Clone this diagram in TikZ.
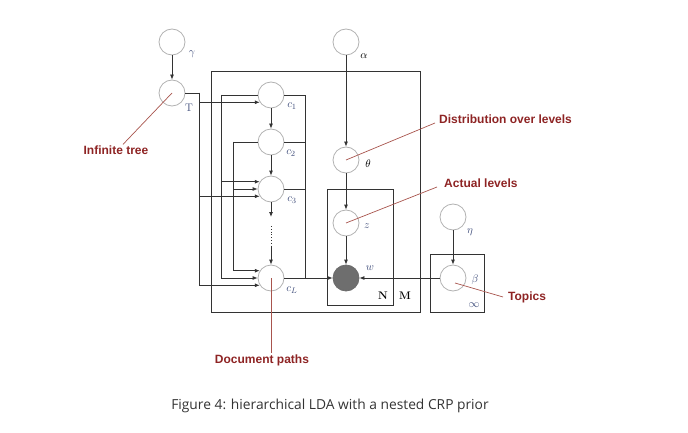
\documentclass[tikz,border=0pt]{standalone}
\usepackage{fontspec}
\newfontfamily\notefont{Liberation Sans}
\newfontfamily\capfont{Open Sans}
\usetikzlibrary{arrows.meta}
\definecolor{notered}{HTML}{8E2424}
\definecolor{noteline}{HTML}{A8544D}
\definecolor{lblblue}{HTML}{3C4A78}
\definecolor{wiregray}{HTML}{333333}
\definecolor{obsgray}{HTML}{6E6E6E}
\begin{document}
\begin{tikzpicture}[x=1pt,y=-1pt,
    var/.style={circle,draw=gray!60,line width=0.8pt,fill=white,minimum size=26pt,inner sep=0pt},
    obs/.style={var,draw=gray!85!black,fill=obsgray},
    wire/.style={draw=wiregray,line width=0.8pt},
    arr/.style={wire,-{Latex[length=5pt,width=4pt]}},
    plate/.style={draw=wiregray,line width=0.8pt},
    lbl/.style={text=lblblue,font=\fontsize{11}{13}\selectfont,inner sep=0pt},
    note/.style={draw=noteline,line width=0.7pt},
    notetext/.style={text=notered,font=\notefont\bfseries\fontsize{12}{14}\selectfont,inner sep=1pt}]
    \useasboundingbox (0,0) rectangle (688,433);
    % plates
    \draw[plate] (211,71) rectangle (420,312);
    \draw[plate] (327,189) rectangle (393,305);
    \draw[plate] (430,254) rectangle (484,312);
    \node[lbl,text=black] at (383,296) {\textbf{N}};
    \node[lbl,text=black] at (405,296) {\textbf{M}};
    \node[lbl] at (474,305) {$\infty$};
    % tree and path variables
    \node[var] (gamma) at (172,42) {};
    \node[var] (T) at (172,93) {};
    \node[var] (c1) at (271,95) {};
    \node[var] (c2) at (271,142) {};
    \node[var] (c3) at (271,189) {};
    \node[var] (cL) at (271,278) {};
    \node[lbl] at (192,54) {$\gamma$};
    \node[lbl] at (189,108) {$\mathrm{T}$};
    \node[lbl] at (292,106) {$c_1$};
    \node[lbl] at (291,153) {$c_2$};
    \node[lbl] at (292,200) {$c_3$};
    \node[lbl] at (292,290) {$c_L$};
    % level and word variables
    \node[var] (alpha) at (346,42) {};
    \node[var] (theta) at (346,160) {};
    \node[var] (z) at (346,223) {};
    \node[obs] (w) at (346,278) {};
    \node[var] (eta) at (453,217) {};
    \node[var] (beta) at (453,278) {};
    \node[lbl,text=black] at (364,56) {$\alpha$};
    \node[lbl,text=black] at (368,164) {$\theta$};
    \node[lbl] at (367,226) {$z$};
    \node[lbl] at (370,268) {$w$};
    \node[lbl] at (470,232) {$\eta$};
    \node[lbl] at (475,280) {$\beta$};
    % bus lines
    \coordinate (tbus) at (199,93);
    \coordinate (c1bus) at (221,95);
    \coordinate (c2bus) at (233,142);
    \coordinate (rbus) at (305,278);
    \coordinate (dotA) at (271,217);
    \coordinate (dotB) at (271,247);
    % edges
    \draw[arr] (gamma) -- (T);
    \draw[arr] (c1) -- (c2);
    \draw[arr] (c2) -- (c3);
    \draw[arr] (c3) -- (dotA);
    \draw[wire,dotted] ([yshift=-9pt]dotA) -- ([yshift=1pt]dotB);
    \draw[arr] (dotB) -- (cL);
    \draw[wire] (T.east) -- (tbus);
    \draw[arr] (tbus) |- (c1.213);
    \draw[arr] (tbus) |- (c3.213);
    \draw[arr] (tbus) |- (cL.213);
    \draw[wire] (c1.west) -- (c1bus);
    \draw[arr] (c1bus) |- (c3.147);
    \draw[arr] (c1bus) |- (cL.west);
    \draw[wire] (c2.west) -- (c2bus);
    \draw[arr] (c2bus) |- (c3.west);
    \draw[arr] (c2bus) |- (cL.147);
    \draw[wire] (c1.east) -| (rbus);
    \draw[wire] (c2.east) -- (c2.east -| rbus);
    \draw[wire] (c3.east) -- (c3.east -| rbus);
    \draw[arr] (cL) -- (w);
    \draw[arr] (alpha) -- (theta);
    \draw[arr] (theta) -- (z);
    \draw[arr] (z) -- (w);
    \draw[arr] (eta) -- (beta);
    \draw[arr] (beta) -- (w);
    % annotations
    \node[notetext] (inftree) at (116,150) {Infinite tree};
    \node[notetext,anchor=west] (dist) at (438,119) {Distribution over levels};
    \node[notetext,anchor=west] (actual) at (443,183) {Actual levels};
    \node[notetext,anchor=west] (topics) at (507,297) {Topics};
    \node[notetext] (docp) at (262,360) {Document paths};
    \draw[note] (T.center) -- ([xshift=7pt]inftree.north);
    \draw[note] (theta.center) -- ([shift={(-3pt,-4pt)}]dist.west);
    \draw[note] (z.center) -- ([shift={(-6pt,-4pt)}]actual.west);
    \draw[note] ([shift={(2pt,-5pt)}]beta.center) -- ([shift={(-4pt,0pt)}]topics.west);
    \draw[note] (cL.center) -- (cL.center |- docp.north);
    % caption
    \node[text=black!80,font=\capfont\fontsize{13.8}{16}\selectfont] (caption) at (330,406)
        {Figure 4: hierarchical LDA with a nested CRP prior};
\end{tikzpicture}
\end{document}
